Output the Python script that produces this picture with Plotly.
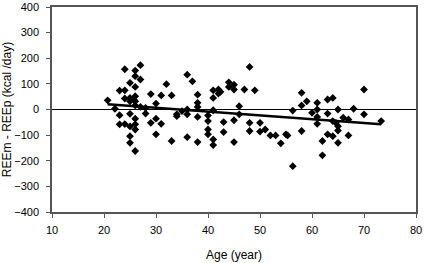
import numpy as np
import plotly.graph_objects as go

age = [20.7, 22.1, 23, 23, 23, 24, 24, 24, 24, 25, 25, 25, 25, 25, 25, 25, 25.7,
       26, 26, 26, 26, 26, 26, 26, 26, 26, 26, 27, 27, 27, 28, 28, 29, 29, 30, 30, 30,
       31, 31, 32, 33, 33, 34, 34, 35, 36, 36, 36, 36, 37, 38, 38, 38, 38, 38,
       40, 40, 40, 40, 41, 41, 41, 41, 41, 42, 42, 42.4, 43, 43, 44, 44, 45, 45, 45, 45,
       46, 46, 47, 48, 48, 48, 49, 50, 50, 51, 52, 53, 54, 55, 55.3, 56.3, 56.3,
       58, 58, 58, 59, 60, 61, 61, 61, 61, 62, 62, 63, 63, 63, 64, 64, 64,
       65, 65, 65, 65, 66, 67, 67, 68, 70, 70, 73.3, 64.6]
diff = [36, 3, 74, -22, -58, 157, 75, 43, -57, 104, 45, 32, -17, -66, -104, -130, 39,
        152, 130, 88, 52, 32, 16, -36, -58, -78, -162, 173, 117, 10, 6, -16, 60, -52, 23, -36, -97,
        55, -56, 99, 55, -123, -19, -26, -6, 136, 0, -19, -108, 110, 58, 26, 10, -29, -127,
        -23, -45, -78, -97, 75, 45, -3, -117, -139, 62, 78, 69, -49, -88, 106, 88, 97, 78, -42, -127,
        13, -19, 78, 166, -52, -84, 75, -52, -86, -78, -101, -101, -132, -97, -101, -4, -221,
        65, 16, -84, 32, -13, 26, 0, -29, -56, -123, -179, 39, -16, -97, 45, -45, -104,
        0, -65, -82, -130, -32, -39, -101, 3, 78, -19, -45, -52]

x_ticks = [10, 20, 30, 40, 50, 60, 70, 80]
y_ticks = [-400, -300, -200, -100, 0, 100, 200, 300, 400]

a = np.array(age)
d = np.array(diff)
slope, intercept = np.polyfit(a, d, 1)
fit_x = np.array([a.min(), a.max()])
fit_y = slope * fit_x + intercept

fig = go.Figure()
fig.add_trace(go.Scatter(x=[10, 80], y=[0, 0], mode="lines",
                         line=dict(color="black", width=1), hoverinfo="skip"))
fig.add_trace(go.Scatter(x=age, y=diff, mode="markers",
                         marker=dict(symbol="diamond", size=6, color="black",
                                     line=dict(width=0))))
fig.add_trace(go.Scatter(x=fit_x, y=fit_y, mode="lines",
                         line=dict(color="black", width=2.5)))

font = dict(family="Liberation Sans, Arial, sans-serif", color="black", size=11)
axis_common = dict(showgrid=False, zeroline=False, automargin=False,
                   showline=True, linecolor="#555555", linewidth=1.5, mirror=True,
                   ticks="outside", ticklen=4, tickcolor="#555555",
                   tickfont=dict(color="black", size=11),
                   ticklabeloverflow="allow")
fig.update_layout(
    width=424, height=263,
    margin=dict(l=52, r=8, t=7, b=51),
    paper_bgcolor="white", plot_bgcolor="white",
    showlegend=False,
    font=font,
    xaxis=dict(range=[10, 80], tickvals=x_ticks, ticklabelstandoff=3,
               title=dict(text="Age (year)", font=dict(size=12, color="black"), standoff=16),
               **axis_common),
    yaxis=dict(range=[-400, 400], tickvals=y_ticks, ticklabelstandoff=5,
               title=dict(text="REEm - REEp (kcal /day)", font=dict(size=12, color="black"), standoff=6),
               **axis_common),
)
fig.write_html("out.html", config={"displayModeBar": False},
               post_script="document.body.style.margin='0';document.body.style.overflow='hidden';")
